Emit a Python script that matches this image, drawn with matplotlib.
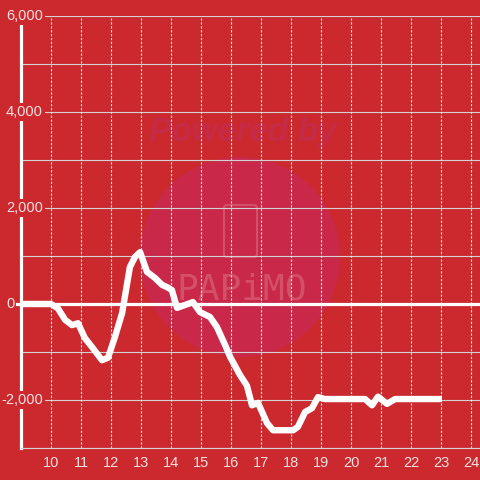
import matplotlib
matplotlib.use('Agg')
import matplotlib.pyplot as plt
from matplotlib.patches import Circle, FancyBboxPatch

# hour of day vs. value
hours = [9.0, 10.0, 10.23, 10.47, 10.7, 10.9, 11.13, 11.37, 11.7, 11.9,
         12.13, 12.37, 12.63, 12.8, 12.97, 13.2, 13.47, 13.7, 13.87, 14.03,
         14.2, 14.47, 14.73, 14.97, 15.3, 15.53, 15.8, 15.97, 16.3, 16.53,
         16.7, 16.9, 17.2, 17.4, 18.07, 18.23, 18.47, 18.7, 18.9, 19.13,
         20.47, 20.7, 20.9, 21.2, 21.47, 23.03]
values = [0, 0, -90, -330, -440, -400, -710, -900, -1170, -1120,
          -690, -190, 770, 980, 1080, 670, 540, 400, 350, 290,
          -80, -20, 40, -170, -270, -480, -850, -1100, -1480, -1700,
          -2110, -2060, -2480, -2630, -2630, -2560, -2250, -2170, -1940, -1980,
          -1980, -2110, -1930, -2080, -1980, -1980]
x_ticks = list(range(10, 25))
y_ticks = [-2000, 2000, 4000, 6000]

bg = '#cc292e'
txt = '#f4e2e2'
plt.rcParams['lines.scale_dashes'] = False
plt.rcParams['font.family'] = ['Liberation Sans', 'DejaVu Sans']

fig = plt.figure(figsize=(4.8, 4.8), dpi=100, facecolor=bg)
ax = fig.add_axes([21/480, 32/480, 459/480, 432/480], facecolor=bg)
ax.set_xlim(9, 9 + 459/30)
ax.set_ylim(-3000, 6000)

# watermark (figure fraction coords)
ax.add_patch(Circle((240/480, 1 - 257/480), 100/480, transform=fig.transFigure,
                    facecolor='#c92849', edgecolor='none', zorder=0.3))
ax.text(243/480, 1 - 133/480, 'Powered by', transform=fig.transFigure,
        ha='center', va='center', fontsize=24, fontweight='bold', style='italic',
        family='Liberation Sans', color='#c52a46', zorder=0.4)
ax.add_patch(FancyBboxPatch((224/480, 1 - 257/480), 33/480, 52/480,
                            boxstyle='round,pad=0,rounding_size=0.006',
                            transform=fig.transFigure, fill=False,
                            edgecolor='#d65c70', lw=1.5, alpha=0.8, zorder=0.4))
ax.text(242/480, 1 - 289/480, 'PAPiMO', transform=fig.transFigure,
        ha='center', va='center', fontsize=26, family='DejaVu Sans Mono',
        color='#d65c70', alpha=0.8, zorder=0.4)

# grid
for y in range(-3000, 6001, 1000):
    ax.axhline(y, color='#d2d2d2', lw=0.8, zorder=1)
for x in x_ticks:
    ax.axvline(x, color='#ececec', lw=0.8, dashes=(1.6, 1.2), zorder=1)
ax.plot([9 - 4/30, ax.get_xlim()[1]], [0, 0], color='white', lw=2.3,
        zorder=2, clip_on=False)

ax.plot(hours, values, color='white', lw=4.6, solid_joinstyle='round',
        solid_capstyle='butt', zorder=3)

for s in ['top', 'right']:
    ax.spines[s].set_visible(False)
ax.spines['bottom'].set_color('#d2d2d2')
ax.spines['bottom'].set_linewidth(0.8)
ax.spines['left'].set_color('white')
ax.spines['left'].set_linewidth(2.3)
ax.spines['left'].set_zorder(2)

ax.set_xticks(x_ticks)
ax.set_xticklabels([str(v) for v in x_ticks])
ax.tick_params(axis='x', length=0, pad=6, colors=txt, labelsize=10.5)
ax.set_yticks([])
for y in y_ticks:
    ax.text(43, ax.transData.transform((0, y))[1], f'{y:,}', transform=None,
            ha='right', va='center', fontsize=10.5, color=txt, zorder=5,
            bbox=dict(facecolor=bg, edgecolor='none', pad=1.5))
ax.text(15, ax.transData.transform((0, 0))[1], '0', transform=None,
        ha='right', va='center', fontsize=10.5, color=txt, zorder=5)

fig.savefig('out.png', dpi=100, facecolor=bg)
